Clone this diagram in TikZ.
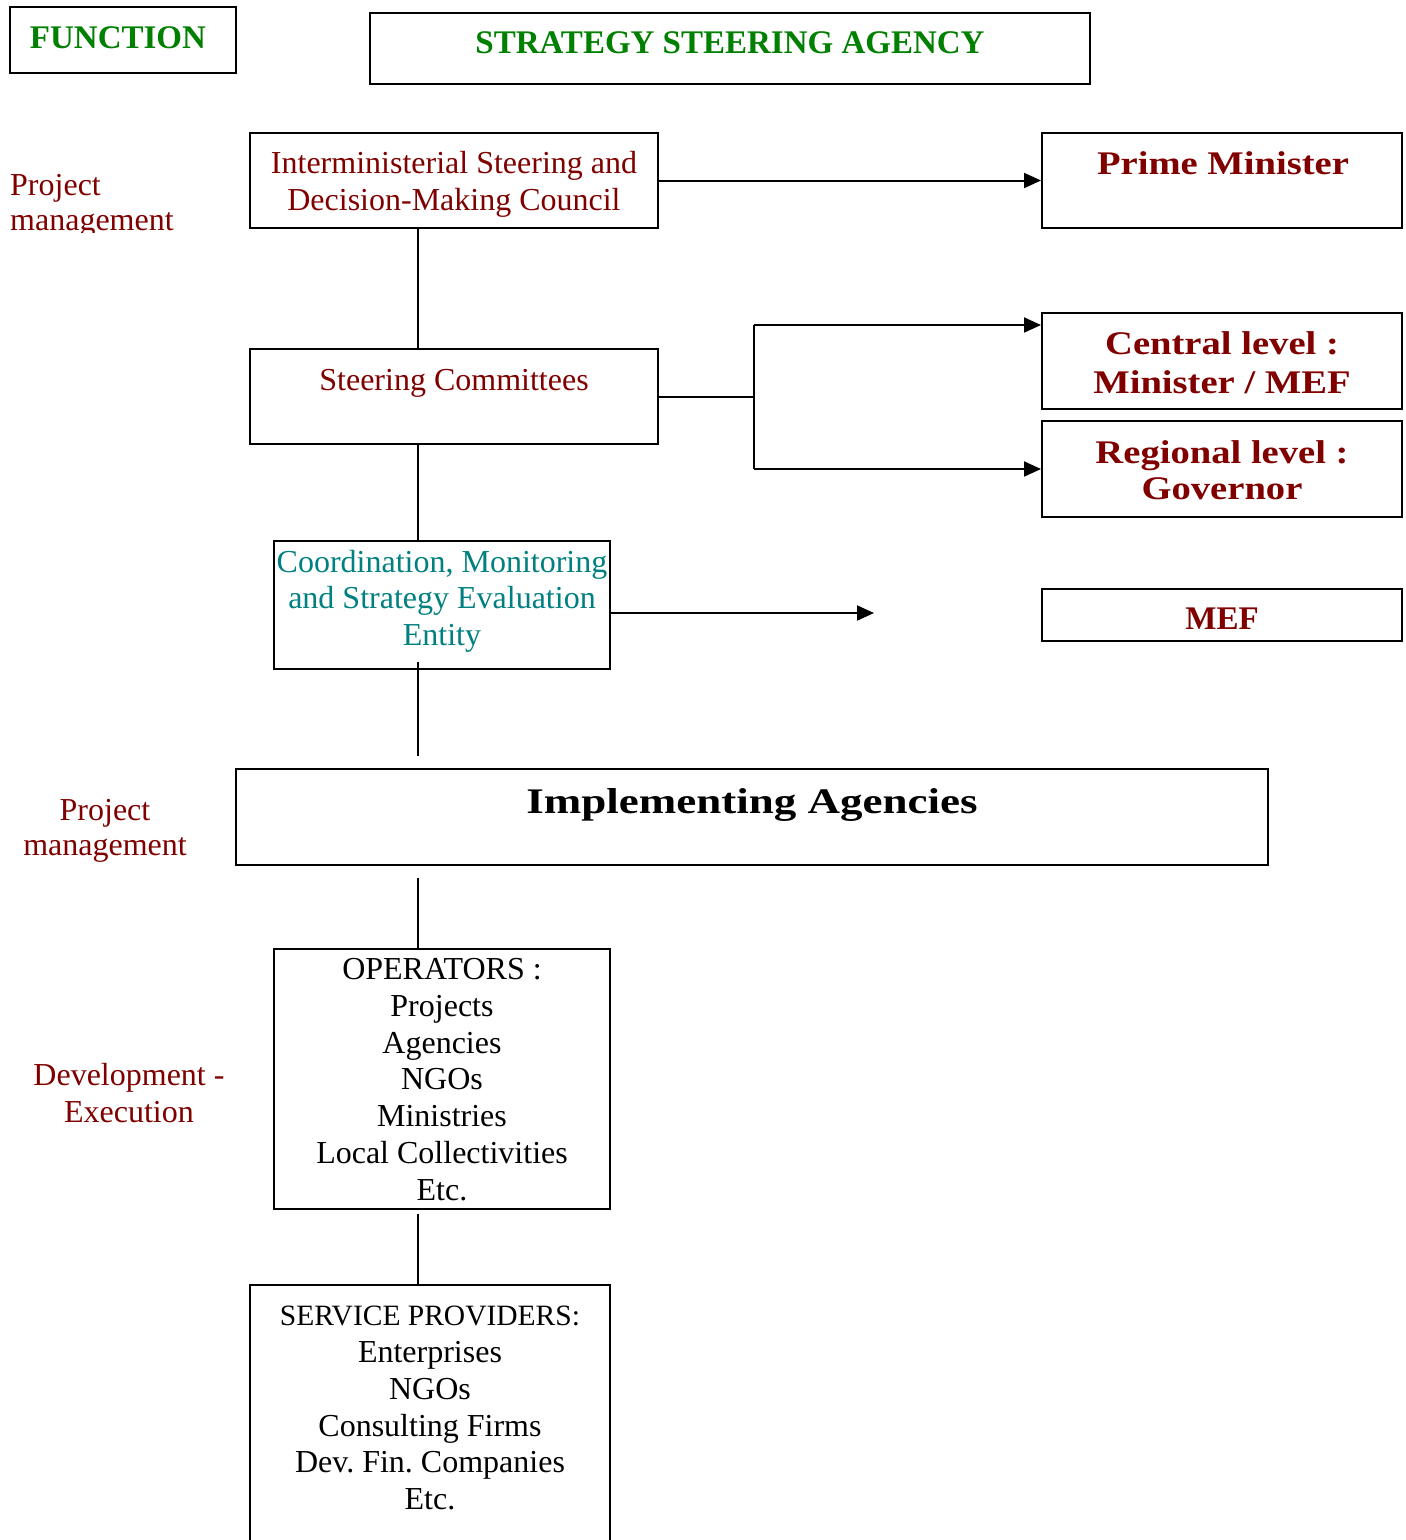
\documentclass[tikz,border=0pt]{standalone}
\usepackage{fontspec}
\setmainfont{Liberation Serif}
\newfontfamily\wideb[FakeStretch=1.17]{Liberation Serif}
\newfontfamily\implf[FakeStretch=1.25]{Liberation Serif}
\usetikzlibrary{arrows.meta}
\definecolor{dred}{HTML}{800000}
\definecolor{fgreen}{HTML}{008000}
\definecolor{fteal}{HTML}{008080}
\frenchspacing
\begin{document}
\begin{tikzpicture}[x=1pt,y=-1pt,
  box/.style={draw, line width=2pt, inner sep=0pt, anchor=north west},
  txt/.style={inner sep=0pt, anchor=north, align=center},
  reg/.style={txt, font=\fontsize{32}{37}\selectfont},
  head/.style={txt, font=\fontsize{33}{38}\selectfont\bfseries, text=fgreen},
  redb/.style={txt, font=\fontsize{33}{39}\selectfont\wideb\bfseries, text=dred},
  link/.style={line width=2pt},
  arr/.style={line width=2pt, -{Triangle[length=17pt,width=15pt]}}]
\useasboundingbox (0,0) rectangle (1406,1540);
\fill[white] (0,0) rectangle (1406,1540);
\coordinate (sp) at (418,0);

% header boxes
\node[box, minimum width=226pt, minimum height=66pt] (fbox) at (9,6) {};
\node[head] (ftext) at (118,26) {FUNCTION};
\node[box, minimum width=720pt, minimum height=71pt] (sbox) at (369,12) {};
\node[head] (stext) at (730,31) {STRATEGY STEERING AGENCY};

% left labels
\begin{scope}
  \clip (0,120) rectangle (240,232);
  \node[reg, anchor=north west, align=left, text=dred, font=\fontsize{32}{35}\selectfont] (pm1) at (10,174) {Project\\management};
\end{scope}
\node[reg, text=dred, font=\fontsize{32}{35}\selectfont] (pm2) at (105,799) {Project\\management};
\node[reg, text=dred] (dev) at (129,1063) {Development -\\Execution};

% main column
\node[box, minimum width=408pt, minimum height=95pt] (inter) at (249,132) {};
\node[reg, text=dred] (intert) at (454,151) {Interministerial Steering and\\Decision-Making Council};
\node[box, minimum width=408pt, minimum height=95pt] (steer) at (249,348) {};
\node[reg, text=dred] (steert) at (454,369) {Steering Committees};
\node[box, minimum width=336pt, minimum height=128pt] (coord) at (273,540) {};
\node[reg, text=fteal, font=\fontsize{32}{36.5}\selectfont] (coordt) at (442,550) {Coordination, Monitoring\\and Strategy Evaluation\\Entity};
\node[box, minimum width=1032pt, minimum height=96pt] (impl) at (235,768) {};
\node[txt, font=\fontsize{36}{40}\selectfont\implf\bfseries] (implt) at (752,788) {Implementing Agencies};
\node[box, minimum width=336pt, minimum height=260pt] (ops) at (273,948) {};
\node[reg, font=\fontsize{32}{36.8}\selectfont] (opst) at (442,958) {OPERATORS :\\Projects\\Agencies\\NGOs\\Ministries\\Local Collectivities\\Etc.};
\node[box, minimum width=360pt, minimum height=300pt] (serv) at (249,1284) {};
\node[reg, font=\fontsize{32}{36.8}\selectfont] (servt) at (430,1306) {{\fontsize{29.5}{36.8}\selectfont SERVICE PROVIDERS:}\\Enterprises\\NGOs\\Consulting Firms\\Dev. Fin. Companies\\Etc.};

% right column
\node[box, minimum width=360pt, minimum height=95pt] (prime) at (1041,132) {};
\node[redb] (primet) at (1223,151) {Prime Minister};
\node[box, minimum width=360pt, minimum height=96pt] (central) at (1041,312) {};
\node[redb] (centralt) at (1222,331) {Central level :\\Minister / MEF};
\node[box, minimum width=360pt, minimum height=96pt] (regional) at (1041,420) {};
\node[redb, font=\fontsize{33}{36}\selectfont\wideb\bfseries] (regionalt) at (1222,440) {Regional level :\\Governor};
\node[box, minimum width=360pt, minimum height=52pt] (mef) at (1041,588) {};
\node[txt, font=\fontsize{33}{38}\selectfont\bfseries, text=dred] (meft) at (1222,608) {MEF};

% connectors
\draw[arr] (inter.east) -- (prime.west);
\draw[link] (inter.south -| sp) -- (steer.north -| sp);
\coordinate (bt) at (754,325);
\coordinate (bb) at (754,469);
\draw[link] (bt) -- (bb);
\draw[link] (steer.east) -- (steer.east -| bt);
\draw[arr] (bt) -- (bt -| central.west);
\draw[arr] (bb) -- (bb -| regional.west);
\draw[link] (steer.south -| sp) -- (coord.north -| sp);
\coordinate (mefend) at (874,613);
\draw[arr] (coord.east |- mefend) -- (mefend);
\draw[link] ([yshift=8pt]coord.south -| sp) -- ([yshift=12pt]impl.north -| sp);
\draw[link] ([yshift=-12pt]impl.south -| sp) -- (ops.north -| sp);
\draw[link] ([yshift=-4pt]ops.south -| sp) -- (serv.north -| sp);
\end{tikzpicture}
\end{document}
